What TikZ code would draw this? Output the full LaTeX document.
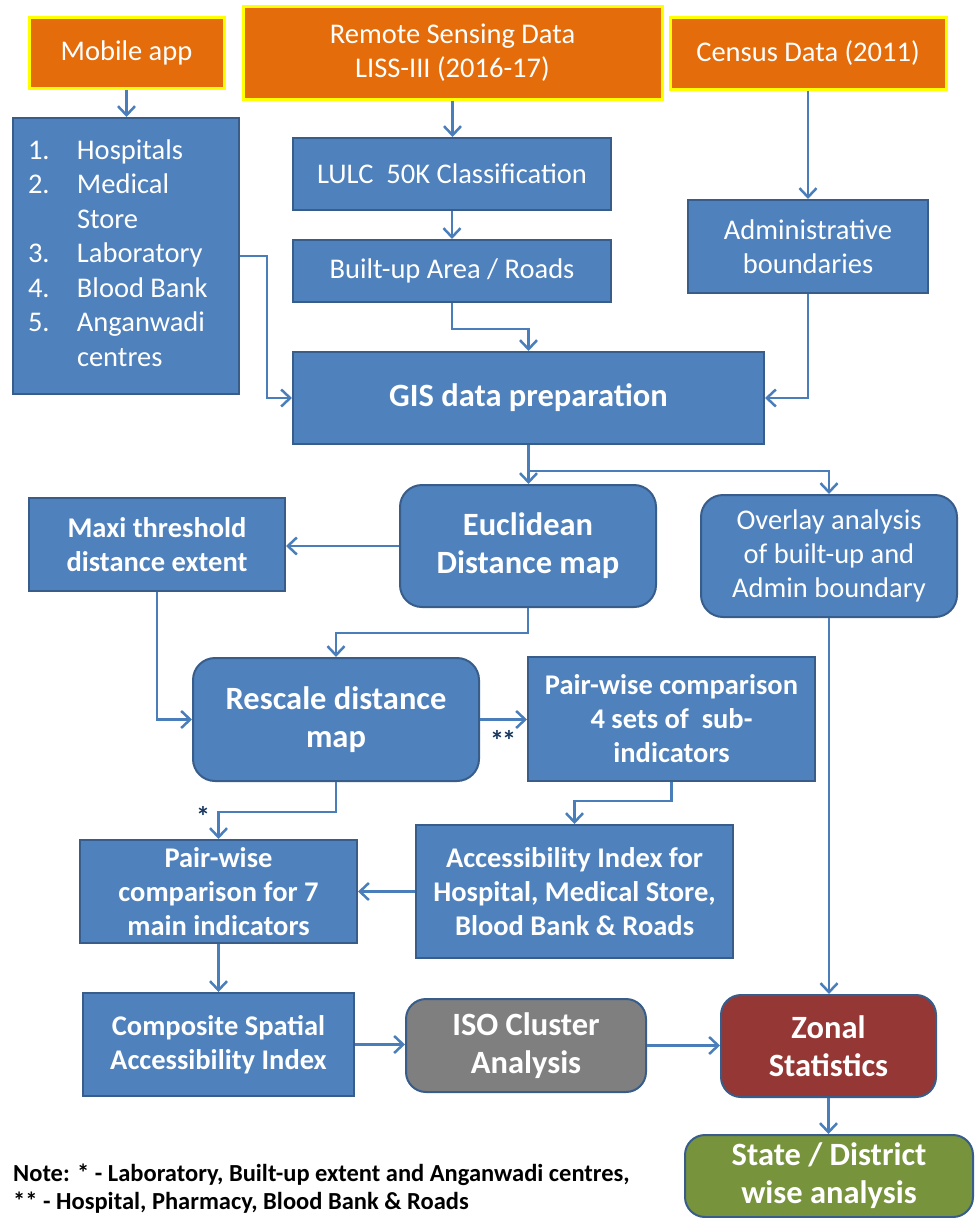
\documentclass[tikz,border=0pt]{standalone}
\usepackage{fontspec}
\setmainfont{Carlito}
\usetikzlibrary{arrows.meta,calc}
\definecolor{fb}{HTML}{4F81BD}
\definecolor{bb}{HTML}{385D8A}
\definecolor{orf}{HTML}{E46C0A}
\definecolor{ylw}{HTML}{FFFF00}
\definecolor{arc}{HTML}{4A7EBB}
\definecolor{gryf}{HTML}{7F7F7F}
\definecolor{redf}{HTML}{953735}
\definecolor{grnf}{HTML}{77933C}
\definecolor{navy}{HTML}{17375E}
\begin{document}
\begin{tikzpicture}[x=1pt,y=-1pt,
  box/.style={draw=bb, fill=fb, line width=2pt, text=white, align=center, inner sep=0pt},
  rbox/.style={box, rounded corners=22pt},
  obox/.style={draw=ylw, fill=orf, line width=3pt, text=white, align=center, inner sep=0pt},
  reg/.style={font=\fontsize{28.5}{34}\selectfont},
  bsm/.style={font=\bfseries\fontsize{28.5}{34}\selectfont},
  bbig/.style={font=\bfseries\fontsize{32.5}{38}\selectfont},
  arr/.style={draw=arc, line width=2.5pt, -{Straight Barb[length=9pt,width=17pt,line width=2.5pt]}},
  lbl/.style={text=navy, font=\bfseries\fontsize{28}{34}\selectfont, inner sep=0pt},
  note/.style={text=black, font=\bfseries\fontsize{24.5}{28}\selectfont, align=left, inner sep=0pt, anchor=north west}
]
\useasboundingbox (0,0) rectangle (975,1218);

% top sources
\node[obox, reg, minimum width=195pt, minimum height=71pt] (mob) at (126.5,52.5) {Mobile app};
\node[obox, reg, minimum width=419pt, minimum height=93pt] (rs) at (452.5,52.5) {Remote Sensing Data\\LISS-III (2016-17)};
\node[obox, reg, minimum width=276pt, minimum height=72pt] (cen) at (808,53) {Census Data (2011)};

% second row
\node[box, minimum width=226pt, minimum height=276pt] (list) at (126,256)
  {\fontsize{28.5}{34.5}\selectfont\begin{tabular}{@{}p{49pt}@{}p{147pt}@{}}
   1. & Hospitals\\ 2. & Medical\\ & Store\\ 3. & Laboratory\\ 4. & Blood Bank\\ 5. & Anganwadi\\ & centres
   \end{tabular}};
\node[box, reg, minimum width=318pt, minimum height=72pt] (lulc) at (452,174) {LULC\ \ 50K Classification};
\node[box, reg, minimum width=318pt, minimum height=62pt] (bua) at (452,271) {Built-up Area / Roads};
\node[box, reg, minimum width=240pt, minimum height=93pt] (adm) at (808,246.5) {Administrative\\boundaries};

\node[box, bbig, minimum width=471pt, minimum height=92pt] (gis) at (528.5,398) {GIS data preparation};

% middle
\node[rbox, bbig, minimum width=256pt, minimum height=122pt] (euc) at (528,546) {Euclidean\\Distance map};
\node[rbox, reg, minimum width=256pt, minimum height=122pt] (ovl) at (829,556) {Overlay analysis\\of built-up and\\Admin boundary};
\node[box, bsm, minimum width=256pt, minimum height=93pt] (maxi) at (157,544.5) {Maxi threshold\\distance extent};
\node[rbox, bbig, minimum width=286pt, minimum height=123pt] (res) at (336,719.5) {Rescale distance\\map};
\node[box, bsm, minimum width=287pt, minimum height=124pt] (pw4) at (671.5,719) {Pair-wise comparison\\4 sets of\ \ sub-\\indicators};
\node[box, bsm, minimum width=317pt, minimum height=133pt] (acc) at (574.5,891.5) {Accessibility Index for\\Hospital, Medical Store,\\Blood Bank \& Roads};
\node[box, bsm, minimum width=277pt, minimum height=103pt] (pw7) at (218.5,891.5) {Pair-wise\\comparison for 7\\main indicators};

% bottom
\node[box, bsm, minimum width=271pt, minimum height=103pt] (comp) at (218.5,1044.5) {Composite Spatial\\Accessibility Index};
\node[rbox, bbig, fill=gryf, rounded corners=20pt, minimum width=240pt, minimum height=93pt] (iso) at (526,1045.5) {ISO Cluster\\Analysis};
\node[rbox, bbig, fill=redf, rounded corners=20pt, minimum width=215pt, minimum height=102pt] (zon) at (828.5,1046) {Zonal\\Statistics};
\node[rbox, bbig, fill=grnf, rounded corners=20pt, minimum width=288pt, minimum height=82pt] (st) at (829,1176) {State / District\\wise analysis};

% labels
\node[lbl] (l2) at (503,740) {*\kern-2pt*};
\node[lbl] (l1) at (203,816) {*};
\node[note] (nt) at (13,1164) {Note: * - Laboratory, Built-up extent and Anganwadi centres,\\** - Hospital, Pharmacy, Blood Bank \& Roads};

% connectors
\draw[arr] (mob.south) -- (mob.south |- list.north);
\draw[arr] (rs.south) -- (rs.south |- lulc.north);
\draw[arr] (lulc.south) -- (bua.north);
\draw[arr] (bua.south) -- ++(0,26) -| (gis.north);
\draw[arr] (cen.south) -- (adm.north);
\draw[arr] (adm.south) |- (gis.east);
\draw[arr] (list.east) -- ++(27,0) |- (gis.west);
\draw[arr] (gis.south) -- (gis.south |- euc.north);
\draw[arr] (gis.south) -- ++(0,26) -| (ovl.north);
\draw[arr] (euc.west) -- (euc.west -| maxi.east);
\draw[arr] (maxi.south) |- (res.west);
\draw[arr] (euc.south) -- ++(0,25) -| (res.north);
\draw[arr] (res.east) -- (res.east -| pw4.west);
\draw[arr] (pw4.south) -- ++(0,19) -| (acc.north);
\draw[arr] (acc.west) -- (pw7.east);
\draw[arr] (res.south) -- ++(0,30) -| (pw7.north);
\draw[arr] (pw7.south) -- (comp.north);
\draw[arr] (comp.east) -- (comp.east -| iso.west);
\draw[arr] (iso.east) -- (iso.east -| zon.west);
\draw[arr] (ovl.south) -- (ovl.south |- zon.north);
\draw[arr] (zon.south) -- (zon.south |- st.north);
\end{tikzpicture}
\end{document}
